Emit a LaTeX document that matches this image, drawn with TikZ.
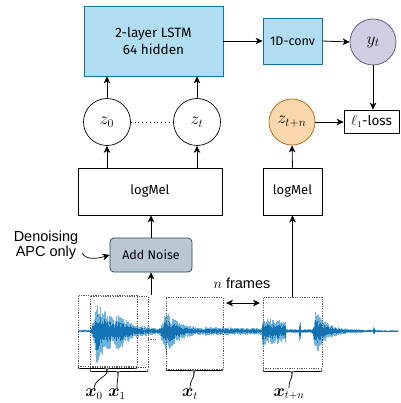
\documentclass[tikz,border=0pt]{standalone}
\usepackage{amsmath,bm}
\usepackage{fontspec}
\setmainfont{Fira Sans}
\newfontfamily\arialf{Liberation Sans}
\usetikzlibrary{arrows.meta,calc}
\definecolor{lstmfill}{HTML}{B1DDF0}
\definecolor{lstmdraw}{HTML}{10739E}
\definecolor{purfill}{HTML}{D0CEE2}
\definecolor{purdraw}{HTML}{56517E}
\definecolor{orfill}{HTML}{FAD7AC}
\definecolor{ordraw}{HTML}{B46504}
\definecolor{grfill}{HTML}{BAC8D3}
\definecolor{grdraw}{HTML}{23445D}
\definecolor{wavedark}{HTML}{1473B5}
\definecolor{wavelight}{HTML}{6FB2DE}
\tikzset{
  box/.style={draw=black, line width=0.7pt, inner sep=0pt, font=\fontsize{13}{17}\selectfont, align=center},
  bluebox/.style={box, fill=lstmfill, draw=lstmdraw},
  circ/.style={circle, draw=black, line width=0.7pt, inner sep=0pt, minimum size=46pt, font=\fontsize{18}{20}\selectfont},
  win/.style={draw=black!65, dash pattern=on 1.2pt off 1.2pt, line width=0.5pt, inner sep=0pt},
  arr/.style={-{Stealth[length=7pt,width=6.5pt,inset=2pt]}, line width=0.8pt},
  bracestyle/.style={line width=0.7pt, black},
  xlab/.style={inner sep=0pt, font=\fontsize{16}{18}\selectfont},
  declare function={
    burst(\x,\s,\r,\A,\t)=\A*min(1,max(0,\x-\s)/\r)*exp(-max(0,\x-\s-\r)/\t);
  }
}
\newcommand{\mybrace}[5]{% left, right, y, labelnode, tipx
  \draw[bracestyle] (#1,#3-2) .. controls (#1,#3) .. (#1+3,#3) -- (#5-3,#3) .. controls (#5,#3) .. (#5,#3+3)
     .. controls (#5,#3) .. (#5+3,#3) -- (#2-3,#3) .. controls (#2,#3) .. (#2,#3-2);
  \draw[bracestyle] (#5,#3+3) .. controls (#5,#3+8) and ($(#4.north)+(0,-9)$) .. (#4.north);
}
\begin{document}
\begin{tikzpicture}[x=1pt,y=-1pt]
\useasboundingbox (0,0) rectangle (400,403);

% ---------- waveform ----------
\pgfmathsetseed{11}
\draw[wavelight, line width=0.5pt] (78,331) -- (397,331);
\foreach \i in {0,...,638} {
  \pgfmathsetmacro\xx{78+\i*0.5}
  \pgfmathsetmacro\base{(\xx<345)*(1.2+0.8*(\xx>137)+1.4*(\xx>205)*(\xx<262)) + (\xx>=345)*(0.5+1.4*exp(-max(0,\xx-345)/25))}
  \pgfmathsetmacro\bb{burst(\xx,91,6,30,17)+burst(\xx,114,4,9,11)+burst(\xx,159,7,17,14)+(\xx>=262)*(\xx<=285)*(11-3*(\xx-262)/23)+(abs(\xx-300)<0.6)*9+burst(\xx,312,4,19,10)+(abs(\xx-374)<0.6)*4}
  \pgfmathsetmacro\env{\base+\bb}
  \pgfmathsetmacro\up{\env*(0.45+0.55*rnd)}
  \pgfmathsetmacro\dn{\env*1.15*(0.45+0.55*rnd)}
  \draw[wavelight, line width=0.45pt] (\xx,331-\up) -- (\xx,331+\dn);
  \draw[wavedark, line width=0.45pt] (\xx,331-0.6*\up) -- (\xx,331+0.6*\dn);
}

% ---------- windows ----------
\node[win, minimum width=59pt, minimum height=71pt] (winA) at (107.5,330.5) {};
\node[win, minimum width=58pt, minimum height=71pt] (winB) at (119,331.5) {};
\node[win, minimum width=57pt, minimum height=72pt] (winC) at (194.5,333) {};
\node[win, minimum width=59pt, minimum height=71pt] (winD) at (292.5,332.5) {};
\draw[win] (148,339) -- (157,339);

% ---------- labels under windows ----------
\node[xlab] (x0) at (94,394) {$\bm{x}_0$};
\node[xlab] (x1) at (117,394) {$\bm{x}_1$};
\node[xlab] (xt) at (190,394) {$\bm{x}_t$};
\node[xlab] (xtn) at (289,394) {$\bm{x}_{t+n}$};
\mybrace{78}{137}{368.5}{x0}{107}
\mybrace{90}{148}{371.5}{x1}{118}
\mybrace{166}{223}{370.5}{xt}{194}
\mybrace{263}{322}{371.5}{xtn}{292}

% ---------- boxes ----------
\node[bluebox, minimum width=139pt, minimum height=70pt, font=\fontsize{13.5}{17}\selectfont] (lstm) at (153.5,41) {2-layer LSTM\\64 hidden};
\node[bluebox, minimum width=59pt, minimum height=46pt, font=\fontsize{12.5}{15}\selectfont] (conv) at (292.5,41) {1D-conv};
\node[circ, fill=purfill, draw=purdraw] (yt) at (373,42) {$y_t$};
\node[box, minimum width=55pt, minimum height=23pt, font=\fontsize{13.5}{15}\selectfont] (loss) at (371.5,121.5) {$\ell_1$-loss};
\node[circ, fill=orfill, draw=ordraw] (ztn) at (292,122) {$z_{t+n}$};
\node[box, minimum width=59pt, minimum height=47pt] (melR) at (292.5,191.5) {logMel};
\node[circ, minimum size=47pt] (z0) at (107,122) {$z_0$};
\node[circ, minimum size=47pt] (zt) at (197,122) {$z_t$};
\node[box, minimum width=144pt, minimum height=47pt] (melL) at (150,191.5) {logMel};
\node[box, fill=grfill, draw=grdraw, rounded corners=4pt, minimum width=82pt, minimum height=34pt, font=\fontsize{12.5}{15}\selectfont] (noise) at (151,255) {Add Noise};
\node[align=center, inner sep=0pt, font=\arialf\fontsize{14.5}{15.5}\selectfont] (den) at (46,245) {Denoising\\APC only};
\node[inner sep=0pt, font=\arialf\fontsize{14.5}{16}\selectfont] (nf) at (242,283) {$n$ frames};

% ---------- connectors ----------
\coordinate (wtop) at (151,295);
\coordinate (denS) at (82,253);
\coordinate (nfL) at (226,303);
\coordinate (nfR) at (260,303);
\draw[arr] (lstm.east) -- (conv.west);
\draw[arr] (conv.east) -- (yt.west);
\draw[arr] (yt.south) -- (yt.south |- loss.north);
\draw[arr] (ztn.east) -- (ztn.east -| loss.west);
\draw[arr] (melR.north) -- (ztn.south);
\draw[arr] (winD.north) -- (melR.south);
\draw[arr] (z0.north) -- (z0.north |- lstm.south);
\draw[arr] (zt.north) -- (zt.north |- lstm.south);
\draw[arr] (z0.south |- melL.north) -- (z0.south);
\draw[arr] (zt.south |- melL.north) -- (zt.south);
\draw[arr] (noise.north) -- (noise.north |- melL.south);
\draw[arr] (wtop) -- (noise.south);
\draw[line width=0.7pt, dash pattern=on 0.8pt off 3pt] (z0.east) -- (zt.west);
\draw[arr, line width=0.7pt] (denS) .. controls (86,260) and (96,259) .. (noise.west);
\draw[{Stealth[length=7pt,width=6.5pt,inset=2pt]}-{Stealth[length=7pt,width=6.5pt,inset=2pt]}, line width=0.8pt] (nfL) -- (nfR);
\end{tikzpicture}
\end{document}
